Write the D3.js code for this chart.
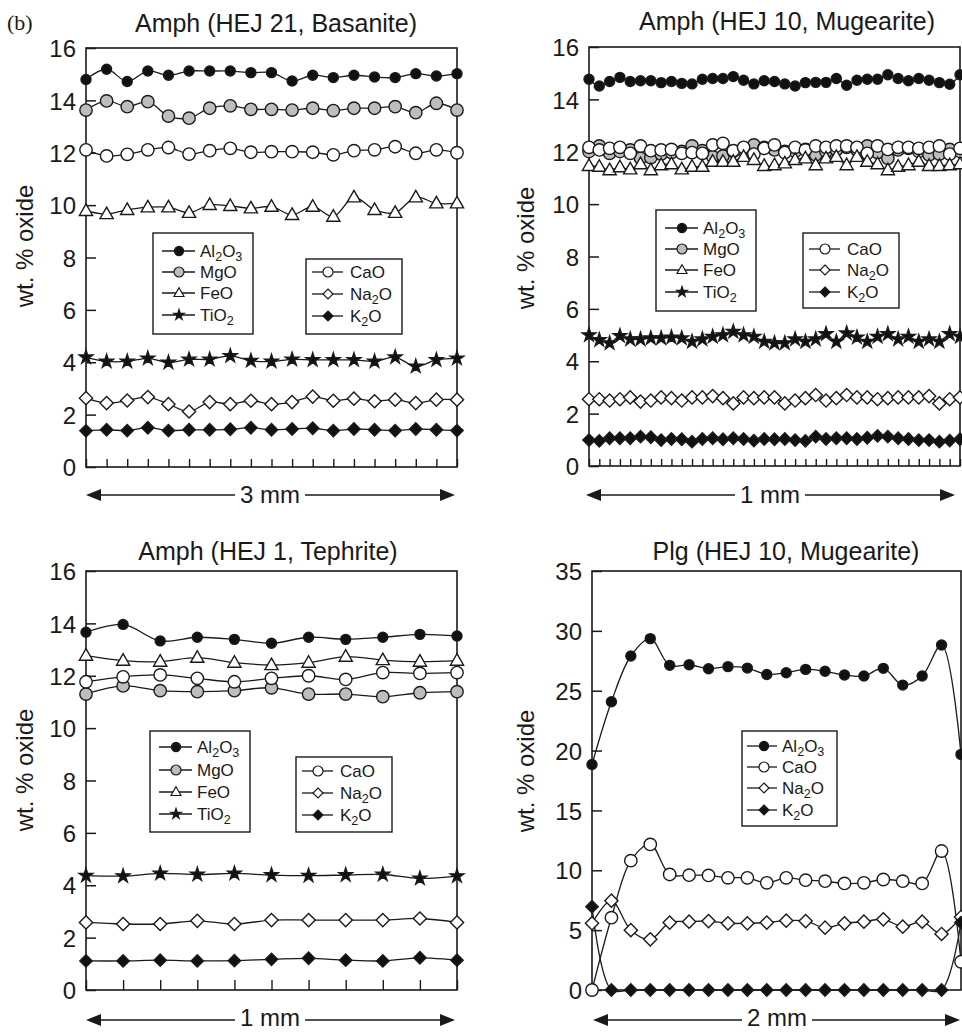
<!DOCTYPE html>
<html><head><meta charset="utf-8">
<script src="https://cdn.jsdelivr.net/npm/d3@7"></script>
<style>
body{margin:0;background:#fff}
svg{display:block}
text{font-family:"Liberation Sans",Arial,Helvetica,sans-serif;fill:#1a1a1a}
</style>
</head><body>
<svg id="chart" width="962" height="1032"></svg>
<script>
// ---------- DATA ----------
const amphTicks = [0, 2, 4, 6, 8, 10, 12, 14, 16];
const plgTicks = [0, 5, 10, 15, 20, 25, 30, 35];

// Panel 1: Amph (HEJ 21, Basanite) – 19 points over 3 mm
const basaniteAl2O3 = [14.80,15.19,14.72,15.12,14.96,15.12,15.12,15.12,15.06,15.06,14.74,14.96,14.87,14.96,14.89,14.87,15.02,14.93,15.02];
const basaniteMgO   = [13.63,13.98,13.76,13.95,13.40,13.32,13.70,13.79,13.66,13.66,13.63,13.70,13.61,13.70,13.70,13.76,13.53,13.89,13.63];
const basaniteCaO   = [12.11,11.88,11.94,12.11,12.20,11.95,12.08,12.17,12.02,12.04,12.04,12.02,11.92,12.08,12.11,12.23,11.98,12.11,12.00];
const basaniteFeO   = [9.78,9.66,9.82,9.92,9.92,9.71,10.01,9.97,9.88,9.94,9.63,9.94,9.56,10.30,9.82,9.71,10.30,10.07,10.07];
const basaniteTiO2  = [4.19,4.03,4.03,4.15,3.99,4.11,4.11,4.24,4.06,4.03,4.11,4.09,4.09,4.09,4.03,4.19,3.84,4.09,4.15];
const basaniteNa2O  = [2.63,2.44,2.54,2.67,2.40,2.12,2.48,2.40,2.53,2.40,2.48,2.69,2.53,2.61,2.51,2.57,2.44,2.57,2.57];
const basaniteK2O   = [1.38,1.42,1.39,1.50,1.39,1.42,1.42,1.44,1.50,1.42,1.45,1.48,1.39,1.45,1.42,1.39,1.45,1.42,1.39];

// Panel 2: Amph (HEJ 10, Mugearite) – 37 points over 1 mm
const mugAmphAl2O3 = [14.77,14.51,14.68,14.84,14.68,14.71,14.71,14.64,14.68,14.61,14.59,14.77,14.80,14.80,14.87,14.73,14.59,14.71,14.68,14.59,14.51,14.64,14.65,14.65,14.80,14.54,14.73,14.77,14.77,14.94,14.80,14.71,14.80,14.73,14.64,14.58,14.94];
const mugAmphMgO   = [12.01,12.22,11.94,12.01,12.07,11.75,11.78,11.91,11.97,12.01,12.22,12.04,11.81,11.84,12.01,12.07,12.26,12.17,12.07,12.01,12.01,12.09,11.88,12.01,12.07,12.17,12.07,12.22,11.97,11.75,12.07,12.13,12.01,11.88,11.91,12.09,12.01];
const mugAmphCaO   = [12.17,12.07,12.13,12.17,11.94,12.22,12.04,12.07,12.09,11.94,11.97,11.94,12.26,12.32,12.04,12.17,11.91,12.13,12.26,11.97,12.17,12.07,12.22,12.17,12.22,12.22,12.17,11.94,12.22,12.09,12.17,12.17,12.13,12.17,12.22,11.91,12.13];
const mugAmphFeO   = [11.46,11.43,11.30,11.41,11.33,11.53,11.30,11.49,11.53,11.33,11.43,11.43,11.62,11.62,11.62,11.81,11.69,11.46,11.49,11.56,11.69,11.75,11.49,11.75,11.81,11.49,11.81,11.62,11.53,11.30,11.43,11.49,11.62,11.46,11.46,11.49,11.53];
const mugAmphTiO2  = [5.00,4.81,4.69,4.97,4.84,4.84,4.88,4.88,4.91,4.88,4.75,4.84,4.94,5.00,5.13,5.00,4.94,4.75,4.69,4.69,4.84,4.75,4.84,5.04,4.75,5.07,4.91,4.75,4.94,5.04,4.84,4.94,4.75,4.84,4.75,5.04,4.94];
const mugAmphNa2O  = [2.55,2.55,2.50,2.55,2.62,2.46,2.50,2.62,2.59,2.50,2.62,2.62,2.67,2.59,2.39,2.62,2.59,2.62,2.62,2.39,2.50,2.59,2.71,2.50,2.59,2.71,2.62,2.62,2.55,2.59,2.62,2.62,2.62,2.67,2.39,2.55,2.62];
const mugAmphK2O   = [0.99,0.96,1.06,1.06,1.06,1.12,1.10,0.99,1.03,1.02,0.93,1.03,1.06,1.02,1.06,1.03,0.97,1.03,1.02,1.03,0.99,0.96,1.12,1.03,1.06,1.06,1.03,1.08,1.15,1.12,1.06,1.03,0.99,0.99,0.93,0.97,1.02];

// Panel 3: Amph (HEJ 1, Tephrite) – 11 points over 1 mm
const tephAl2O3 = [13.66,13.96,13.33,13.47,13.39,13.24,13.47,13.39,13.47,13.58,13.52];
const tephMgO   = [11.30,11.61,11.43,11.39,11.43,11.54,11.30,11.30,11.20,11.35,11.39];
const tephCaO   = [11.77,11.96,12.03,11.90,11.77,11.90,12.00,11.86,12.12,12.09,12.12];
const tephFeO   = [12.77,12.58,12.54,12.69,12.50,12.41,12.50,12.73,12.60,12.54,12.58];
const tephTiO2  = [4.37,4.35,4.45,4.41,4.45,4.39,4.37,4.39,4.41,4.26,4.35];
const tephNa2O  = [2.58,2.52,2.52,2.64,2.52,2.67,2.67,2.67,2.67,2.73,2.58];
const tephK2O   = [1.11,1.11,1.14,1.11,1.12,1.17,1.21,1.14,1.11,1.23,1.14];

// Panel 4: Plg (HEJ 10, Mugearite) – 20 points over 2 mm
const plgAl2O3 = [18.84,24.08,27.90,29.35,27.12,27.17,26.84,27.01,26.89,26.36,26.50,26.78,26.62,26.31,26.23,26.87,25.47,26.23,28.82,19.68];
const plgCaO   = [0.00,6.04,10.80,12.16,9.65,9.59,9.57,9.37,9.37,8.95,9.37,9.17,9.09,8.90,8.95,9.23,9.09,8.90,11.61,2.36];
const plgNa2O  = [5.57,7.46,5.00,4.23,5.63,5.71,5.76,5.57,5.57,5.63,5.79,5.76,5.21,5.57,5.71,5.90,5.29,5.71,4.68,6.10];
const plgK2O   = [6.96,0,0,0,0,0,0,0,0,0,0,0,0,0,0,0,0,0,0,5.63];

// ---------- STYLES ----------
const markerStyle = {
  "Al2O3": {shape: "circle",   r: 5,   fill: "#111"},
  "MgO":   {shape: "circle",   r: 6.2, fill: "#bdbdbd"},
  "FeO":   {shape: "triangle", r: 6.6, fill: "#fff"},
  "TiO2":  {shape: "star",     r: 7.2, fill: "#111"},
  "CaO":   {shape: "circle",   r: 6.2, fill: "#fff"},
  "Na2O":  {shape: "diamond",  r: 6.6, fill: "#fff"},
  "K2O":   {shape: "diamond",  r: 6.2, fill: "#111"}
};

function shapePath(shape, r) {
  if (shape === "circle") return d3.symbol(d3.symbolCircle, Math.PI * r * r)();
  if (shape === "triangle") return `M0,${-r * 1.05}L${r},${r * 0.7}L${-r},${r * 0.7}Z`;
  if (shape === "diamond") return `M0,${-r}L${r},0L0,${r}L${-r},0Z`;
  if (shape === "star") return d3.symbol(d3.symbolStar, r * r / 0.8908130915292852)();
}

function richText(sel, label) {
  const parts = label.match(/[A-Za-z]+|\d+/g);
  let shifted = false;
  parts.forEach(p => {
    const isNum = /^\d+$/.test(p);
    const t = sel.append("tspan").text(p);
    if (isNum && !shifted) { t.attr("dy", 4).attr("font-size", "0.74em"); shifted = true; }
    else if (isNum) { t.attr("font-size", "0.74em"); }
    else if (!isNum && shifted) { t.attr("dy", -4); shifted = false; }
  });
}

const svg = d3.select("#chart");

svg.append("text").attr("x", 7).attr("y", 30)
  .style("font-family", "'Liberation Serif','Times New Roman',serif")
  .attr("font-size", 22).text("(b)");

function drawPanel(cfg) {
  const g = svg.append("g");
  const n = cfg.series[0].values.length;
  const x = d3.scaleLinear().domain([0, n - 1]).range([cfg.left, cfg.right]);
  const y = d3.scaleLinear().domain([0, cfg.ymax]).range([cfg.bottom, cfg.top]);

  // y axis (inward ticks)
  const ya = g.append("g").attr("transform", `translate(${cfg.left},0)`)
    .call(d3.axisLeft(y).tickValues(cfg.ticks).tickSizeInner(-10).tickSizeOuter(0).tickPadding(10));
  ya.select(".domain").remove();
  ya.selectAll(".tick line").attr("stroke", "#1a1a1a").attr("stroke-width", 1.5);
  ya.selectAll(".tick text").attr("font-size", 24).attr("fill", "#1a1a1a")
    .style("font-family", "'Liberation Sans',Arial,sans-serif").attr("dy", "0.36em");

  // x axis ticks (inward)
  if (cfg.xTicks) {
    const xa = g.append("g").attr("transform", `translate(0,${cfg.bottom})`)
      .call(d3.axisBottom(x).tickValues(d3.range(n)).tickSizeInner(-cfg.xTicks).tickSizeOuter(0).tickFormat(""));
    xa.select(".domain").remove();
    xa.selectAll(".tick line").attr("stroke", "#1a1a1a").attr("stroke-width", 1.4);
  }

  // frame
  g.append("rect").attr("x", cfg.left).attr("y", cfg.top)
    .attr("width", cfg.right - cfg.left).attr("height", cfg.bottom - cfg.top)
    .attr("fill", "none").attr("stroke", "#1a1a1a").attr("stroke-width", 1.6);

  // lines
  const line = d3.line().x((d, i) => x(i)).y(d => y(d)).curve(d3.curveCatmullRom.alpha(0.5));
  cfg.series.forEach(s => {
    g.append("path").attr("d", line(s.values)).attr("fill", "none")
      .attr("stroke", "#1a1a1a").attr("stroke-width", 1.3);
  });
  // markers
  cfg.series.forEach(s => {
    const st = markerStyle[s.name];
    g.append("g").selectAll("path").data(s.values).join("path")
      .attr("transform", (d, i) => `translate(${x(i)},${y(d)})`)
      .attr("d", shapePath(st.shape, st.r))
      .attr("fill", st.fill).attr("stroke", "#1a1a1a").attr("stroke-width", 1.4);
  });

  // legends
  cfg.legends.forEach(L => {
    const lg = g.append("g");
    lg.append("rect").attr("x", L.x).attr("y", L.y).attr("width", L.w).attr("height", L.h)
      .attr("fill", "#fff").attr("stroke", "#1a1a1a").attr("stroke-width", 1.4);
    L.items.forEach((name, k) => {
      const cy = L.rows[k];
      const st = markerStyle[name];
      lg.append("line").attr("x1", L.x + L.l1).attr("x2", L.x + L.l2).attr("y1", cy).attr("y2", cy)
        .attr("stroke", "#1a1a1a").attr("stroke-width", 1.3);
      lg.append("path").attr("transform", `translate(${L.x + L.m},${cy})`)
        .attr("d", shapePath(st.shape, st.shape === "star" ? 5.5 : (name === "Al2O3" ? 4.6 : 5)))
        .attr("fill", st.fill).attr("stroke", "#1a1a1a").attr("stroke-width", 1.2);
      const t = lg.append("text").attr("x", L.x + L.t).attr("y", cy + 6).attr("font-size", 17);
      richText(t, name);
    });
  });

  // title
  g.append("text").attr("x", cfg.titleX).attr("y", cfg.titleY).attr("text-anchor", "middle")
    .attr("font-size", 25).text(cfg.title);

  // y label
  g.append("text").attr("transform", `translate(${cfg.ylabX},${cfg.ylabY}) rotate(-90)`)
    .attr("text-anchor", "middle").attr("font-size", 24).text("wt. % oxide");

  // distance arrow
  const ag = g.append("g");
  const lbl = ag.append("text").attr("x", cfg.arrowMid).attr("y", cfg.arrowY + cfg.lblOff)
    .attr("text-anchor", "middle").attr("font-size", 24).text(cfg.dist);
  const tw = lbl.node().getComputedTextLength();
  const a0 = cfg.arrowL, a1 = cfg.arrowR, ay = cfg.arrowY, gap = 5;
  ag.append("line").attr("x1", a0 + 10).attr("x2", cfg.arrowMid - tw / 2 - gap).attr("y1", ay).attr("y2", ay)
    .attr("stroke", "#1a1a1a").attr("stroke-width", 1.6);
  ag.append("line").attr("x1", cfg.arrowMid + tw / 2 + gap).attr("x2", a1 - 10).attr("y1", ay).attr("y2", ay)
    .attr("stroke", "#1a1a1a").attr("stroke-width", 1.6);
  ag.append("path").attr("d", `M${a0},${ay}L${a0 + 15},${ay - 6}L${a0 + 15},${ay + 6}Z`).attr("fill", "#1a1a1a");
  ag.append("path").attr("d", `M${a1},${ay}L${a1 - 15},${ay - 6}L${a1 - 15},${ay + 6}Z`).attr("fill", "#1a1a1a");
}

const legA = (x, y, rows) => ({x, y, w: 100, h: 101, l1: 9, l2: 42, m: 26, t: 47, items: ["Al2O3", "MgO", "FeO", "TiO2"], rows});
const legB = (x, y, rows) => ({x, y, w: 96, h: 75, l1: 6, l2: 37, m: 22, t: 44, items: ["CaO", "Na2O", "K2O"], rows});

drawPanel({
  left: 86, right: 457, top: 48, bottom: 467, ymax: 16, ticks: amphTicks, xTicks: 8,
  title: "Amph (HEJ 21, Basanite)", titleX: 276, titleY: 32,
  ylabX: 33, ylabY: 246, dist: "3 mm", arrowL: 86, arrowR: 455, arrowY: 495, lblOff: 8, arrowMid: 270,
  series: [
    {name: "Al2O3", values: basaniteAl2O3}, {name: "MgO", values: basaniteMgO},
    {name: "CaO", values: basaniteCaO}, {name: "FeO", values: basaniteFeO},
    {name: "TiO2", values: basaniteTiO2}, {name: "Na2O", values: basaniteNa2O},
    {name: "K2O", values: basaniteK2O}],
  legends: [legA(153, 233, [251, 272, 293, 315]), legB(306, 259, [272, 294, 316])]
});

drawPanel({
  left: 589, right: 960, top: 47, bottom: 466, ymax: 16, ticks: amphTicks, xTicks: 7,
  title: "Amph (HEJ 10, Mugearite)", titleX: 787, titleY: 30,
  ylabX: 534, ylabY: 248, dist: "1 mm", arrowL: 586, arrowR: 955, arrowY: 495, lblOff: 8, arrowMid: 770,
  series: [
    {name: "Al2O3", values: mugAmphAl2O3}, {name: "MgO", values: mugAmphMgO},
    {name: "CaO", values: mugAmphCaO}, {name: "FeO", values: mugAmphFeO},
    {name: "TiO2", values: mugAmphTiO2}, {name: "Na2O", values: mugAmphNa2O},
    {name: "K2O", values: mugAmphK2O}],
  legends: [legA(656, 210, [228, 249, 270, 292]), legB(803, 233, [249, 270, 292])]
});

drawPanel({
  left: 86, right: 457, top: 571, bottom: 990, ymax: 16, ticks: amphTicks, xTicks: 10,
  title: "Amph (HEJ 1, Tephrite)", titleX: 268, titleY: 560,
  ylabX: 33, ylabY: 770, dist: "1 mm", arrowL: 86, arrowR: 455, arrowY: 1020, lblOff: 6, arrowMid: 270,
  series: [
    {name: "Al2O3", values: tephAl2O3}, {name: "MgO", values: tephMgO},
    {name: "CaO", values: tephCaO}, {name: "FeO", values: tephFeO},
    {name: "TiO2", values: tephTiO2}, {name: "Na2O", values: tephNa2O},
    {name: "K2O", values: tephK2O}],
  legends: [legA(150, 731, [747, 770, 792, 814]), legB(296, 757, [771, 793, 815])]
});

drawPanel({
  left: 592, right: 961, top: 571, bottom: 990, ymax: 35, ticks: plgTicks, xTicks: 0,
  title: "Plg (HEJ 10, Mugearite)", titleX: 786, titleY: 560,
  ylabX: 534, ylabY: 771, dist: "2 mm", arrowL: 593, arrowR: 960, arrowY: 1020, lblOff: 6, arrowMid: 777,
  series: [
    {name: "Al2O3", values: plgAl2O3}, {name: "CaO", values: plgCaO},
    {name: "Na2O", values: plgNa2O}, {name: "K2O", values: plgK2O}],
  legends: [{x: 742, y: 731, w: 95, h: 95, l1: 5, l2: 35, m: 22, t: 40,
    items: ["Al2O3", "CaO", "Na2O", "K2O"], rows: [746, 767, 788, 810]}]
});
</script>
</body></html>
